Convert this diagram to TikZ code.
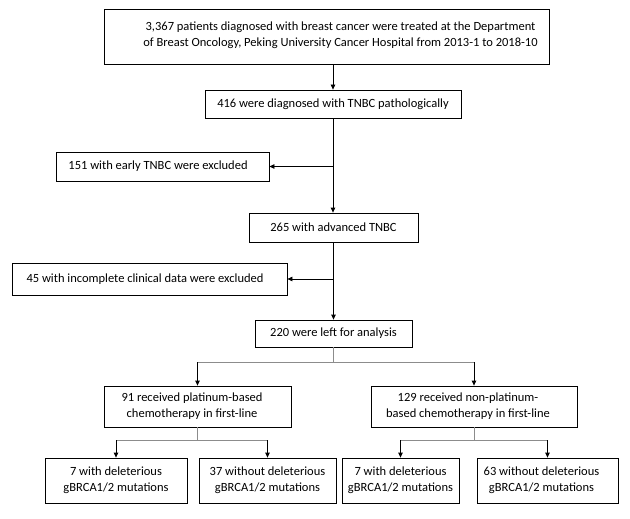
\documentclass[tikz,border=0pt]{standalone}
\usepackage{fontspec}
\setmainfont{Carlito}
\usetikzlibrary{arrows.meta}
\begin{document}
\begin{tikzpicture}[x=1pt,y=-1pt,
  box/.style={draw=black,line width=0.8pt,rectangle,inner sep=0pt,align=center,
    font=\fontsize{12.5}{16}\selectfont},
  lbl/.style={inner sep=0pt,align=center,font=\fontsize{12.5}{16}\selectfont},
  arr/.style={draw=black,line width=0.8pt,-{Triangle[length=5pt,width=4.5pt]}},
  split/.style={draw=black!45,line width=0.8pt}]
\useasboundingbox (0,0) rectangle (630,519);
\fill[white] (0,0) rectangle (630,519);
\node[box,minimum width=445pt,minimum height=55pt] (top) at (326.5,36.5) {};
\node[lbl] (toptext) at (340.5,35)
  {3,367 patients diagnosed with breast cancer were treated at the Department\\
   of Breast Oncology, Peking University Cancer Hospital from 2013-1 to 2018-10};
\node[box,minimum width=256pt,minimum height=28pt] (n416) at (333,104) {416 were diagnosed with TNBC pathologically};
\node[box,minimum width=213pt,minimum height=29pt] (n151) at (162.5,166.5) {};
\node[lbl] (t151) at (158,166.5) {151 with early TNBC were excluded};
\node[box,minimum width=169pt,minimum height=29pt] (n265) at (333.5,227.5) {265 with advanced TNBC};
\node[box,minimum width=275pt,minimum height=32pt] (n45) at (149.5,279) {};
\node[lbl] (t45) at (145,279) {45 with incomplete clinical data were excluded};
\node[box,minimum width=157pt,minimum height=27pt] (n220) at (333.5,333.5) {220 were left for analysis};
\node[box,minimum width=187pt,minimum height=41pt] (n91) at (197.5,406.5) {};
\node[lbl] (t91) at (192,406.5) {91 received platinum-based\\chemotherapy in first-line};
\node[box,minimum width=206pt,minimum height=41pt] (n129) at (474,406.5) {};
\node[lbl] (t129) at (468,406.5) {129 received non-platinum-\\based chemotherapy in first-line};
\node[box,minimum width=142pt,minimum height=45pt] (n7a) at (116,480.5) {7 with deleterious\\gBRCA1/2 mutations};
\node[box,minimum width=137pt,minimum height=45pt] (n37) at (267.5,480.5) {37 without deleterious\\gBRCA1/2 mutations};
\node[box,minimum width=117pt,minimum height=45pt] (n7b) at (400.5,480.5) {7 with deleterious\\gBRCA1/2 mutations};
\node[box,minimum width=141pt,minimum height=45pt] (n63) at (547.5,480.5) {};
\node[lbl] (t63) at (541.5,480.5) {63 without deleterious\\gBRCA1/2 mutations};
% main spine
\draw[arr] (top.south -| n416.north) -- (n416.north);
\draw[arr] (n416.south) -- (n416.south |- n265.north);
\draw[arr] (n416.south |- n151.east) -- (n151.east);
\draw[arr] (n265.south) -- (n265.south |- n220.north);
\draw[arr] (n265.south |- n45.east) -- (n45.east);
% split from 220
\coordinate (s1) at (333.5,362);
\draw[split] (n220.south) -- (s1);
\draw[split] (n91.north |- s1) -- (n129.north |- s1);
\draw[arr] (n91.north |- s1) -- (n91.north);
\draw[arr] (n129.north |- s1) -- (n129.north);
% split from 91
\coordinate (s2) at (197.5,440);
\draw[split] (n91.south) -- (s2);
\draw[split] (n7a.north |- s2) -- (n37.north |- s2);
\draw[arr] (n7a.north |- s2) -- (n7a.north);
\draw[arr] (n37.north |- s2) -- (n37.north);
% split from 129
\coordinate (s3) at (474,440);
\draw[split] (n129.south) -- (s3);
\draw[split] (n7b.north |- s3) -- (n63.north |- s3);
\draw[arr] (n7b.north |- s3) -- (n7b.north);
\draw[arr] (n63.north |- s3) -- (n63.north);
\end{tikzpicture}
\end{document}
